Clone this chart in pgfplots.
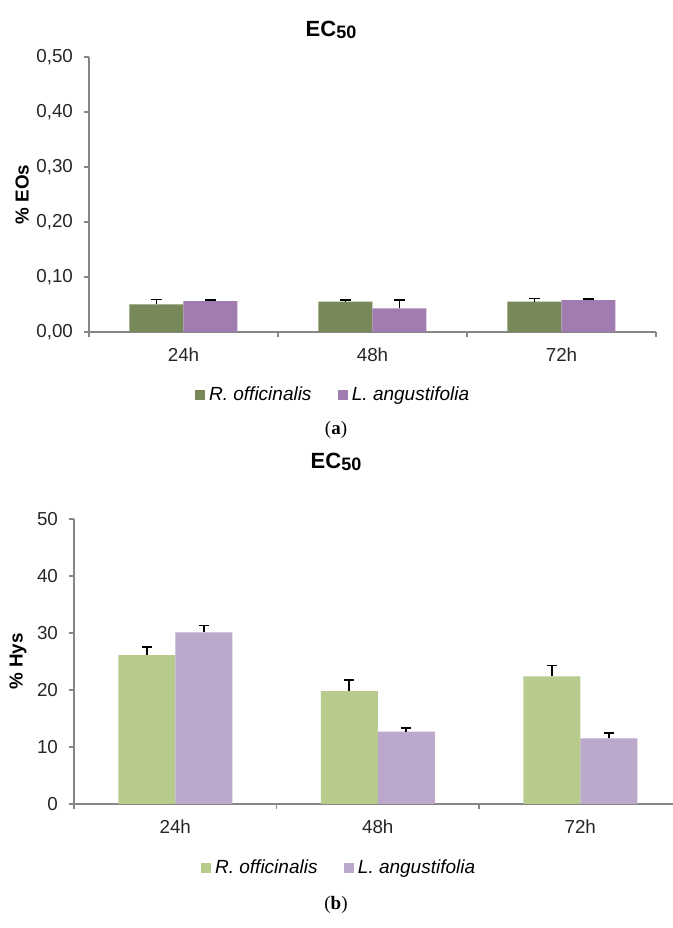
\documentclass[border=0pt]{standalone}
\usepackage{fontspec}
\setmainfont{Liberation Sans}
\newfontfamily\capfont{Liberation Serif}
\usepackage{pgfplots}
\pgfplotsset{compat=1.18}
\definecolor{topgreen}{RGB}{119,137,88}
\definecolor{toppurple}{RGB}{160,124,176}
\definecolor{botgreen}{RGB}{183,203,141}
\definecolor{botpurple}{RGB}{188,168,202}
\definecolor{axisgray}{RGB}{134,134,134}
\pgfplotsset{
  common/.style={
    scale only axis, anchor=south west,
    xmin=0, ymin=0,
    axis lines=left, axis line style={draw=axisgray, line width=0.6pt, -},
    xtick={0,1,2,3}, xticklabels={,,,},
    extra x ticks={0.5,1.5,2.5}, extra x tick labels={24h,48h,72h},
    extra x tick style={major tick length=0pt, xticklabel style={yshift=-4.5pt}},
    tick align=outside, major tick length=2.5pt,
    tick style={axisgray, line width=0.6pt},
    ticklabel style={font=\fontsize{9.4}{11}\selectfont, text=black!85},
    yticklabel style={xshift=-2pt},
    ybar=0pt,
    legend style={draw=none, legend columns=2, anchor=center,
      font=\fontsize{9.5}{11}\selectfont\itshape,
      /tikz/every even column/.append style={column sep=11pt}},
    legend image code/.code={\draw[#1,draw=none] (0pt,-2.6pt) rectangle (5.2pt,2.6pt);},
    ylabel style={anchor=center, font=\fontsize{9.4}{11}\selectfont\bfseries},
  },
  ebar/.style={error bars/.cd, y dir=plus, y explicit,
    error bar style={black, line width=0.9pt},
    error mark options={black, line width=0.9pt, mark size=2.6pt, rotate=90}},
}
\begin{document}
\begin{tikzpicture}
\useasboundingbox (0,0) rectangle (336.5pt,464pt);
% ---------- (a) ----------
\begin{axis}[common,
  at={(44.5pt,298pt)}, width=283.5pt, height=137.5pt,
  xmax=3, ymax=0.5, bar width=27pt,
  ytick={0,0.1,0.2,0.3,0.4,0.5},
  yticklabels={{0,00},{0,10},{0,20},{0,30},{0,40},{0,50}},
  ylabel={\% EOs},
  ylabel style={at={(axis description cs:-0.118,0.5)}},
  legend style={at={(axis description cs:0.432,-0.229)}},
]
\addplot[fill=topgreen, draw=none, ebar] coordinates {
  (0.5,0.050) +- (0,0.009)
  (1.5,0.055) +- (0,0.003)
  (2.5,0.055) +- (0,0.006)
};
\addplot[fill=toppurple, draw=none, ebar] coordinates {
  (0.5,0.056) +- (0,0.002)
  (1.5,0.043) +- (0,0.015)
  (2.5,0.058) +- (0,0.002)
};
\legend{R. officinalis, L. angustifolia}
\end{axis}
% ---------- (b) ----------
\begin{axis}[common,
  at={(37pt,62pt)}, width=299.5pt, height=142.5pt,
  xmax=2.958, ymax=50, bar width=28.5pt,
  ytick={0,10,20,30,40,50},
  yticklabels={0,10,20,30,40,50},
  ylabel={\% Hys},
  ylabel style={at={(axis description cs:-0.0935,0.5)}},
  legend style={at={(axis description cs:0.444,-0.2246)}},
]
\addplot[fill=botgreen, draw=none, ebar] coordinates {
  (0.5,26.1) +- (0,1.4)
  (1.5,19.8) +- (0,2.0)
  (2.5,22.4) +- (0,1.9)
};
\addplot[fill=botpurple, draw=none, ebar] coordinates {
  (0.5,30.1) +- (0,1.2)
  (1.5,12.7) +- (0,0.6)
  (2.5,11.5) +- (0,0.9)
};
\legend{R. officinalis, L. angustifolia}
\end{axis}
% titles and captions
\node[font=\fontsize{11}{13}\selectfont\bfseries] at (165.5pt,449pt) {EC{\fontsize{9}{11}\selectfont\raisebox{-0.2ex}{50}}};
\node[font=\fontsize{11}{13}\selectfont\bfseries] at (168pt,233pt) {EC{\fontsize{9}{11}\selectfont\raisebox{-0.2ex}{50}}};
\node[font=\capfont\fontsize{9.5}{11}\selectfont] at (168pt,249pt) {(\textbf{a})};
\node[font=\capfont\fontsize{9.5}{11}\selectfont] at (168pt,11.5pt) {(\textbf{b})};
\end{tikzpicture}
\end{document}
